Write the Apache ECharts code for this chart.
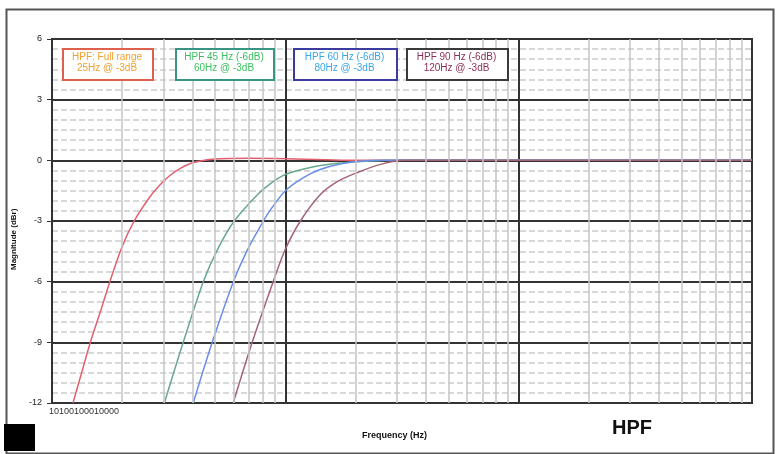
<!DOCTYPE html>
<html>
<head>
<meta charset="utf-8">
<script src="https://cdn.jsdelivr.net/npm/echarts@6/dist/echarts.min.js"></script>
<style>
  html, body { margin: 0; padding: 0; background: #fff; }
  #chart { width: 776px; height: 454px; }
</style>
</head>
<body>
<div id="chart"></div>
<script>
  // frequency (Hz) / magnitude (dBr)
  const fullHz = [12.3, 13.4, 14.6, 16.1, 17.7, 20, 22.5, 26.3, 29, 32, 35.5, 40, 50, 70, 100, 150, 200, 400, 1000, 10000]
  const fullDb = [-12, -10.5, -9, -7.5, -6, -4.25, -3, -1.8, -1.22, -0.75, -0.4, -0.12, 0.06, 0.1, 0.08, 0.03, 0, 0, 0, 0]
  const hz45Hz = [30.3, 36.5, 44.5, 51.5, 60.4, 75.9, 86.3, 100, 128, 167, 232, 312, 600, 1000, 10000]
  const hz45Db = [-12, -9, -6, -4.35, -3, -1.7, -1.15, -0.7, -0.35, -0.15, -0.03, 0, 0, 0, 0]
  const hz60Hz = [40.3, 48.6, 59.9, 69, 80.5, 86.3, 100, 119.5, 141, 172, 210, 256, 500, 1000, 10000]
  const hz60Db = [-12, -9, -6, -4.4, -3, -2.45, -1.5, -0.85, -0.45, -0.18, -0.05, 0, 0, 0, 0]
  const hz90Hz = [59.8, 72.1, 88.7, 100, 116, 141, 167, 204, 256, 321, 600, 1000, 10000]
  const hz90Db = [-12, -9, -6, -4.4, -3, -1.7, -1.05, -0.6, -0.2, 0, 0, 0, 0]

  const seriesNames = ['HPF: Full range', 'HPF 45 Hz (-6dB)', 'HPF 60 Hz (-6dB)', 'HPF 90 Hz (-6dB)']
  const seriesColors = ['#e0606e', '#6aa88c', '#6a8ee6', '#a46478']
  const legendLine2 = ['25Hz @ -3dB', '60Hz @ -3dB', '80Hz @ -3dB', '120Hz @ -3dB']
  const legendText = ['#f0a030', '#3cc060', '#3aa6e6', '#8a3058']
  const legendBorder = ['#e06050', '#3a9484', '#3c3ca0', '#3a3a3a']

  const xTickText = '10100100010000'
  const minorMult = [2, 3, 4, 5, 6, 7, 8, 9]
  const decades = [10, 100, 1000]
  const gridFreqs = []
  decades.forEach(d => minorMult.forEach(m => gridFreqs.push(d * m)))

  const zip = (a, b) => a.map((v, i) => [v, b[i]])
  const curves = [zip(fullHz, fullDb), zip(hz45Hz, hz45Db), zip(hz60Hz, hz60Db), zip(hz90Hz, hz90Db)]

  const chart = echarts.init(document.getElementById('chart'))

  const boxes = [[62, 48, 90], [175, 48, 98], [293, 48, 103], [406, 48, 101]]
  const legendGraphics = []
  boxes.forEach((b, i) => {
    legendGraphics.push({
      type: 'rect', left: b[0], top: b[1], z: 100,
      shape: { width: b[2], height: 31 },
      style: { fill: '#fff', stroke: legendBorder[i], lineWidth: 2 }
    })
    legendGraphics.push({
      type: 'text', x: b[0] + b[2] / 2, y: b[1] + 4, z: 101,
      style: {
        text: seriesNames[i] + '\n' + legendLine2[i],
        fill: legendText[i], font: '10px Arial', align: 'center', verticalAlign: 'top', lineHeight: 11
      }
    })
  })

  const option = {
    animation: false,
    backgroundColor: '#fff',
    grid: {
      left: 52, top: 39, right: 24, bottom: 51,
      show: true, borderColor: '#333', borderWidth: 2, backgroundColor: '#fff'
    },
    xAxis: {
      type: 'log', logBase: 10, min: 10, max: 10000,
      axisLine: { show: true, lineStyle: { color: '#333', width: 2 } },
      axisTick: { show: false },
      axisLabel: { show: false },
      splitLine: { show: true, lineStyle: { color: '#333', width: 2 } }
    },
    yAxis: {
      type: 'value', min: -12, max: 6, interval: 3,
      axisLine: { show: true, lineStyle: { color: '#333', width: 2 } },
      axisTick: { show: true, length: 5, lineStyle: { color: '#333' } },
      axisLabel: { color: '#222', fontSize: 9, fontFamily: 'Arial', margin: 10 },
      splitLine: { show: true, lineStyle: { color: '#333', width: 2 } },
      minorTick: { show: false, splitNumber: 6 },
      minorSplitLine: { show: true, lineStyle: { color: '#cccccc', width: 1.5, type: [6, 3] } }
    },
    series: [
      {
        type: 'line', data: [], silent: true, z: 1,
        markLine: {
          silent: true, symbol: ['none', 'none'], label: { show: false },
          lineStyle: { color: '#c4c4c4', width: 1.5, type: 'solid' },
          data: gridFreqs.map(f => ({ xAxis: f }))
        }
      }
    ].concat(curves.map((c, i) => ({
      name: seriesNames[i], type: 'line', data: c, z: 3,
      smooth: 0.3, showSymbol: false,
      lineStyle: { color: seriesColors[i], width: 1.5 }
    }))),
    graphic: [
      {
        type: 'rect', left: 4, top: 7,
        shape: { width: 767, height: 444 },
        style: { fill: 'none', stroke: '#555', lineWidth: 2 }
      },
      {
        type: 'rect', left: 4, top: 424,
        shape: { width: 31, height: 27 },
        style: { fill: '#000' }
      },
      {
        type: 'text', left: 49, top: 407,
        style: { text: xTickText, fill: '#333', font: '9px Arial' }
      },
      {
        type: 'text', left: 362, top: 431,
        style: { text: 'Frequency (Hz)', fill: '#111', font: 'bold 9px Arial' }
      },
      {
        type: 'text', left: 612, top: 418,
        style: { text: 'HPF', fill: '#111', font: 'bold 20px Arial' }
      },
      {
        type: 'text', x: 10, y: 270, rotation: Math.PI / 2,
        style: { text: 'Magnitude (dBr)', fill: '#111', font: 'bold 8px Arial' }
      }
    ].concat(legendGraphics)
  }

  chart.setOption(option)
</script>
</body>
</html>
